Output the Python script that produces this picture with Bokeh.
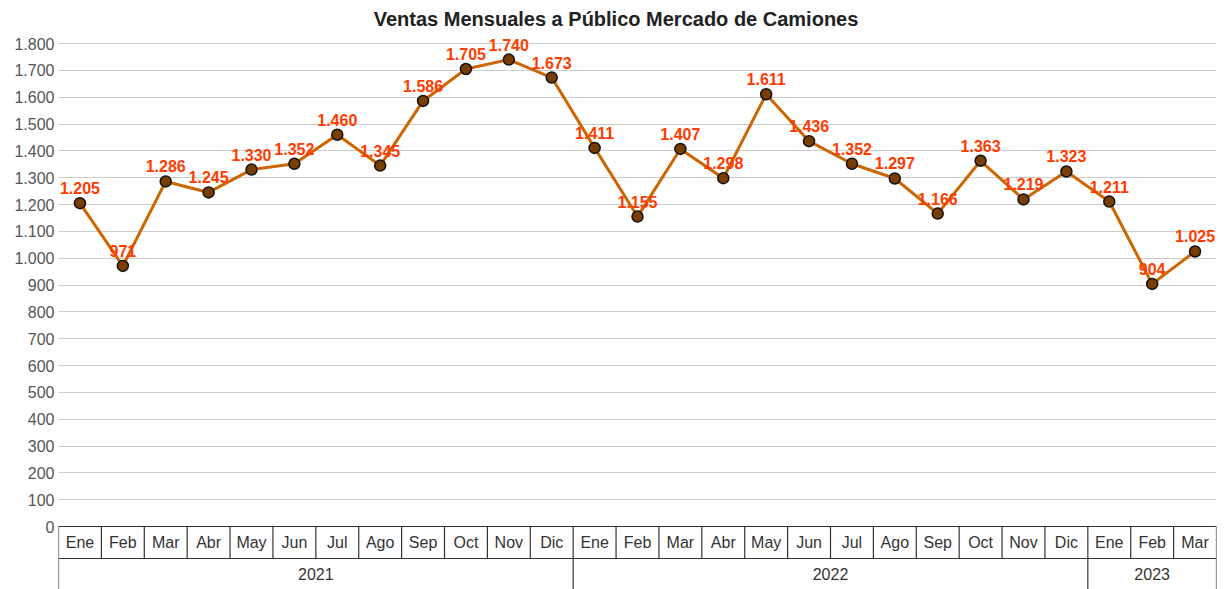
from bokeh.plotting import figure
from bokeh.models import FixedTicker, Range1d
from bokeh.core.properties import value
from bokeh.embed import file_html
from bokeh.resources import INLINE

title_text = "Ventas Mensuales a Público Mercado de Camiones"
months = ["Ene", "Feb", "Mar", "Abr", "May", "Jun", "Jul", "Ago", "Sep", "Oct", "Nov", "Dic",
          "Ene", "Feb", "Mar", "Abr", "May", "Jun", "Jul", "Ago", "Sep", "Oct", "Nov", "Dic",
          "Ene", "Feb", "Mar"]
years = ["2021", "2022", "2023"]
year_counts = [12, 12, 3]
sales = [1205, 971, 1286, 1245, 1330, 1352, 1460, 1345, 1586, 1705, 1740, 1673,
         1411, 1155, 1407, 1298, 1611, 1436, 1352, 1297, 1166, 1363, 1219, 1323,
         1211, 904, 1025]
y_ticks = list(range(0, 1801, 100))


def fmt(v):
    return f"{v:,}".replace(",", ".")


FONT = "Liberation Sans"
n = len(months)
xs = list(range(n))

px_per_unit = 483 / 1800.0
frame_h = 589
y_top = 1800 + 43 / px_per_unit
y_bot = y_top - frame_h / px_per_unit
row_sep = -32 / px_per_unit

p = figure(width=1218, height=589, output_backend="svg", toolbar_location=None,
           x_range=Range1d(-0.5, n - 0.5), y_range=Range1d(y_bot, y_top),
           min_border_left=58, min_border_right=2, min_border_top=0, min_border_bottom=0)
p.outline_line_color = None
p.xaxis.visible = False
p.xgrid.visible = False
p.ygrid.grid_line_color = "#cccccc"
p.ygrid.grid_line_width = 1
p.yaxis.ticker = FixedTicker(ticks=y_ticks)
p.yaxis.major_label_overrides = {t: fmt(t) for t in y_ticks}
p.yaxis.axis_line_color = None
p.yaxis.major_tick_line_color = None
p.yaxis.major_tick_out = 0
p.yaxis.major_tick_in = 0
p.yaxis.minor_tick_line_color = None
p.yaxis.major_label_standoff = 4
p.yaxis.major_label_text_font = FONT
p.yaxis.major_label_text_font_size = "16px"
p.yaxis.major_label_text_color = "#555555"

# title
p.text(x=[(n - 1) / 2 - 0.5], y=[1800 + 25 / px_per_unit], text=[title_text],
       text_font=value(FONT), text_font_size="20px", text_font_style="bold",
       text_color="#222222", text_align="center", text_baseline="middle")

# series
p.line(xs, sales, line_color="#cc6600", line_width=3)
p.scatter(xs, sales, size=11, fill_color="#7a3d00", line_color="#111111", line_width=1.5)
p.text(x=xs, y=sales, text=[fmt(v) for v in sales], text_font=value(FONT),
       text_font_size="16px", text_font_style="bold", text_color="#ff3c00",
       text_align="center", text_baseline="alphabetic", y_offset=-15)

# category table
edge = "#333333"
p.segment(x0=[-0.5, -0.5], y0=[0, row_sep], x1=[n - 0.5, n - 0.5], y1=[0, row_sep],
          line_color=edge, line_width=1.2)
bx = [i - 0.5 for i in range(n + 1)]
p.segment(x0=bx, y0=[0] * len(bx), x1=bx, y1=[row_sep] * len(bx), line_color=edge, line_width=1.2)
gb = [-0.5]
for c in year_counts:
    gb.append(gb[-1] + c)
p.segment(x0=gb, y0=[row_sep] * len(gb), x1=gb, y1=[y_bot] * len(gb), line_color=edge, line_width=1.2)
p.text(x=xs, y=[row_sep / 2] * n, text=months, text_font=value(FONT), text_font_size="16px",
       text_color="#333333", text_align="center", text_baseline="middle")
centers = [(gb[i] + gb[i + 1]) / 2 for i in range(len(years))]
p.text(x=centers, y=[(row_sep + y_bot) / 2] * len(years), text=years, text_font=value(FONT),
       text_font_size="16px", text_color="#333333", text_align="center", text_baseline="middle")

open("out.html", "w").write(file_html(p, INLINE))
